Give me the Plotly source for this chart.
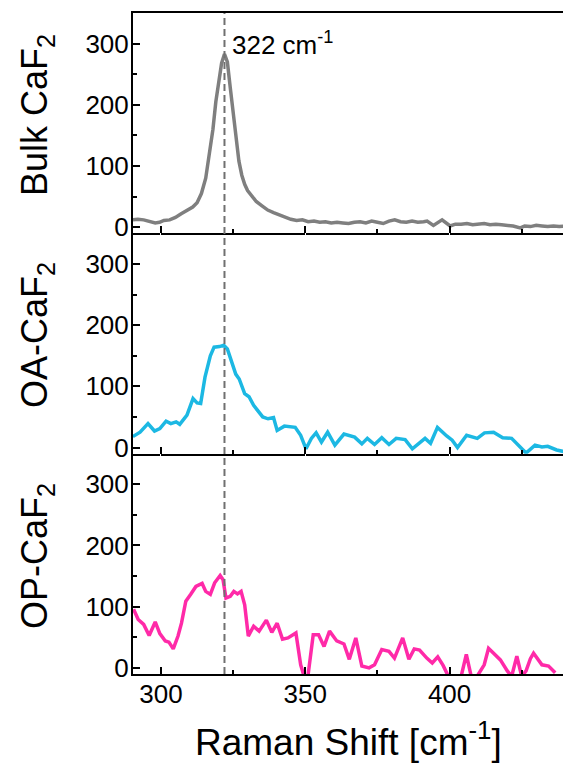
import plotly.graph_objects as go
from plotly.subplots import make_subplots

# Raman spectra of three CaF2 samples (intensity, a.u.)
bulk_shift = [290.3, 292, 294, 296, 298, 299.5, 301, 303, 305, 307, 309, 311, 312.5, 314, 315.5,
              317, 318, 319, 320, 321, 322, 323, 324, 325, 326, 327, 328, 329, 330, 331.5,
              333, 335, 337, 339, 341, 343, 345, 347, 349, 351, 353, 355, 357, 359, 361,
              363, 365, 367, 369, 371, 373, 375, 377, 379, 381, 383, 385, 387, 389, 391,
              392.2, 394.4, 397.4, 400.2, 402, 404, 406, 408, 410, 412, 414, 416, 418, 420,
              422, 424.5, 426, 428, 430, 432, 434, 436, 438, 440]
bulk_int = [12, 13, 12, 9, 7, 8, 11, 12, 16, 22, 28, 33, 40, 55, 80,
            125, 160, 205, 240, 268, 283, 270, 228, 185, 140, 108, 85, 70, 60, 50,
            42, 35, 28, 24, 20, 16, 13, 11, 12, 9, 10, 8, 9, 7, 8,
            7, 6, 8, 9, 7, 10, 8, 6, 10, 12, 9, 8, 10, 8, 9,
            10, 3, 12, 2, 5, 5, 6, 4, 5, 6, 4, 5, 4, 3,
            2, -1, 2, 1, 3, 2, 1, 2, 1, 2]

oa_shift = [290.25, 292.75, 295.5, 297.75, 299.6, 301.75, 303.4, 305.25, 306.5, 309,
            311.1, 312.5, 313.75, 315.25, 317.1, 318.4, 320.25, 321.75, 323, 324.6,
            325.9, 327.1, 329, 330.5, 332.1, 335.25, 337.1, 339, 340.25, 342.75,
            346.5, 348.4, 350.25, 352.1, 353.75, 355.6, 357.75, 360.25, 363.4, 367.1,
            369.6, 371.5, 374, 376.5, 379, 381.5, 384.6, 387.1, 391.5, 393.4,
            395.8, 399, 400.9, 402.75, 405.9, 409.6, 412.1, 415.25, 418.4, 421.5,
            424, 426.5, 429.6, 432, 434, 437.1, 440]
oa_int = [18, 25, 39, 27, 31, 43, 39, 42, 38, 53,
          80, 73, 72, 115, 150, 164, 165, 167, 161, 140,
          120, 112, 88, 83, 69, 50, 47, 49, 28, 35,
          33, 20, -2, 15, 24, 9, 25, 4, 22, 17,
          6, 15, 5, 16, 5, 15, 13, -2, 15, 7,
          33, 19, 12, 0, 20, 15, 24, 25, 16, 15,
          2, -9, 4, 1, 2, -4, -7]

op_shift = [290.5, 292.1, 294, 295.9, 298, 299.6, 301.5, 302.75, 304.25, 305.9,
            307.1, 308.6, 310.25, 312.1, 314.25, 315.5, 317.1, 318.6, 320.5, 321.5,
            322.5, 324, 325.25, 326.5, 327.75, 329, 330.25, 332.1, 334, 336.5,
            338.4, 340.25, 342.1, 344, 346.75, 348.4, 349.6, 350.9, 352.75, 354.6,
            356.5, 358.4, 360.9, 363.4, 365.25, 367.5, 369.6, 372.1, 374, 376.5,
            379, 380.9, 383.75, 385.9, 387.75, 389.6, 392.1, 394, 395.9, 397.75,
            399.6, 404, 405.8, 407.5, 409.5, 412, 413.5, 415.5, 417.6, 420,
            421.5, 423.3, 425, 426.5, 428, 429.1, 430.5, 432, 434.3, 436.6]
op_int = [96, 79, 71, 53, 75, 56, 44, 42, 31, 52,
          73, 109, 120, 133, 138, 125, 120, 139, 151, 144,
          114, 117, 125, 121, 125, 103, 52, 68, 60, 78,
          58, 73, 47, 49, 57, 5, -14, -14, 54, 54,
          35, 60, 44, 39, 14, 49, 3, 0, 5, 30,
          27, 16, 49, 14, 31, 29, 16, 8, 18, 4,
          -14, -14, 22, -14, -14, 5, 32, 22, 13, -5,
          -14, 19, -14, -5, 15, 24, 14, 5, 3, -8]

sample_names = ["Bulk CaF<sub>2</sub>", "OA-CaF<sub>2</sub>", "OP-CaF<sub>2</sub>"]
line_colors = ["#7f7f7f", "#1cb8e3", "#ff2aa8"]
peak_pos = 322

FONT = "Liberation Sans, Arial, sans-serif"

fig = make_subplots(rows=3, cols=1, shared_xaxes=True, vertical_spacing=0)

series = [(bulk_shift, bulk_int), (oa_shift, oa_int), (op_shift, op_int)]
for i, ((xs, ys), col) in enumerate(zip(series, line_colors), start=1):
    fig.add_trace(go.Scatter(x=xs, y=ys, mode="lines",
                             line=dict(color=col, width=3.5)), row=i, col=1)

tick_font = dict(family=FONT, size=26, color="black")

for i in range(1, 4):
    fig.update_xaxes(range=[290.3, 439.3], tick0=300, dtick=50,
                     showline=True, linecolor="black", linewidth=2,
                     mirror=(i == 1),
                     ticks="inside", tickcolor="black", tickwidth=2, ticklen=7,
                     minor=dict(dtick=25, ticks="inside", ticklen=4,
                                tickwidth=2, tickcolor="black"),
                     showticklabels=(i == 3), tickfont=tick_font,
                     ticklabelstandoff=-4,
                     row=i, col=1)
    fig.update_yaxes(range=[-10, 350], tick0=0, dtick=100,
                     showline=True, linecolor="black", linewidth=2,
                     ticks="inside", tickcolor="black", tickwidth=2, ticklen=7,
                     minor=dict(dtick=50, ticks="inside", ticklen=4,
                                tickwidth=2, tickcolor="black"),
                     tickfont=tick_font, ticklabelstandoff=-3,
                     row=i, col=1)

# dashed marker of the main phonon mode through all panels
fig.add_shape(type="line", xref="x", yref="paper", x0=peak_pos, x1=peak_pos,
              y0=0, y1=1, line=dict(color="#707070", width=2, dash="7px,4px"))

fig.add_annotation(x=peak_pos + 1.8, y=300, xref="x", yref="y",
                   text=f"{peak_pos} cm<sup>-1</sup>", showarrow=False,
                   xanchor="left", yanchor="middle",
                   font=dict(family=FONT, size=26, color="black"))

title_y = [0.8457, 0.5129, 0.1785]
for name, ty in zip(sample_names, title_y):
    fig.add_annotation(x=-0.223, y=ty, xref="paper", yref="paper",
                       text=name, textangle=-90, showarrow=False,
                       xanchor="center", yanchor="middle",
                       font=dict(family=FONT, size=36, color="black"))

fig.add_annotation(x=0.5, y=-0.099, xref="paper", yref="paper",
                   text="Raman Shift [cm<sup>-1</sup>]", showarrow=False,
                   xanchor="center", yanchor="middle",
                   font=dict(family=FONT, size=37, color="black"))

fig.update_layout(width=563, height=765, showlegend=False,
                  margin=dict(l=133, r=0, t=13, b=91),
                  paper_bgcolor="white", plot_bgcolor="white")

fig.write_html("out.html")
